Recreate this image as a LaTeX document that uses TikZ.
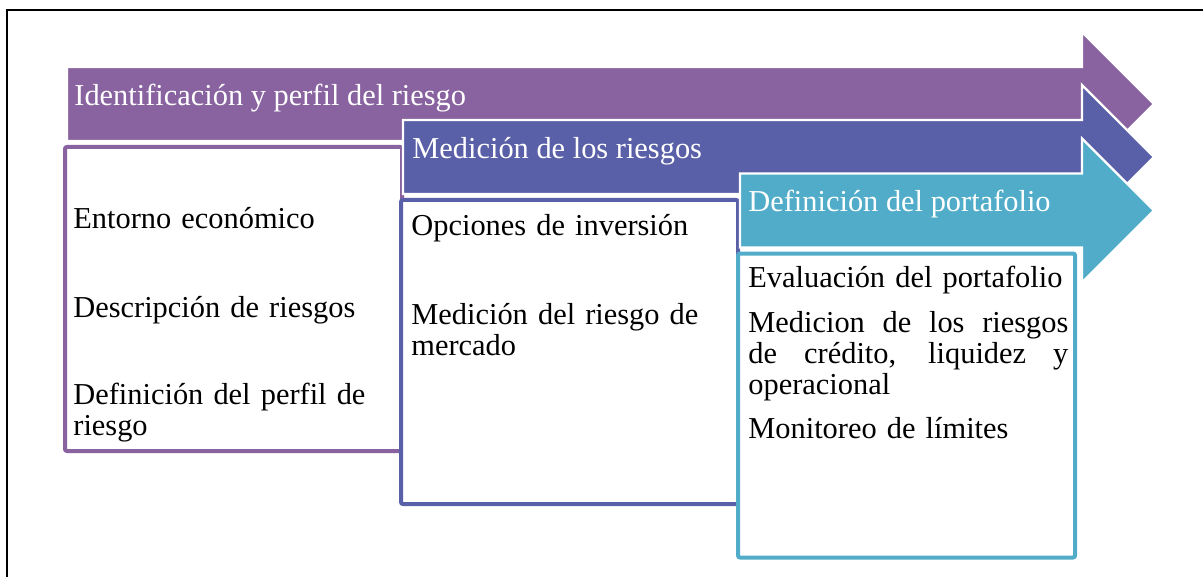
\documentclass[tikz,border=0pt]{standalone}
\usepackage{fontspec}
\setmainfont{Liberation Serif}
\definecolor{purp}{HTML}{8962A0}
\definecolor{blu}{HTML}{5A60A8}
\definecolor{cyanb}{HTML}{50ACC8}

\begin{document}
\begin{tikzpicture}[x = .5pt, y = -.5pt,
    title/.style = {anchor = base west, inner sep = 0, text = white, font = \fontsize{15.2}{15.5}\selectfont},
    item/.style = {anchor = base west, inner sep = 0, text width = 160pt, align = left, font = \fontsize{15.2}{15.5}\selectfont}]

    \useasboundingbox (0, 0) rectangle (1203, 577);
    \draw [line width = .7pt] (7, 577) -- (7, 10) -- (1203, 10);

    % arrow and box of each stage
    \foreach \c/\l/\m in {purp/67/104, blu/403/157, cyanb/740/210.5} {
        \draw [fill = \c, draw = white, line width = 1.2pt]
          (\l, \m-37) -- (1082, \m-37) -- (1082, \m-72) -- (1154, \m) -- (1082, \m+72) -- (1082, \m+37) -- (\l, \m+37) -- cycle;
        \draw [fill = white, draw = \c, line width = 2pt, rounded corners = 1pt]
          (\l-2, \m+43) rectangle (\l+335, \m+347);
    }

    \node [title] (idn) at (74, 106) {Identificación y perfil del riesgo};
    \node [title] (med) at (412, 159) {Medición de los riesgos};
    \node [title] (def) at (748, 212) {Definición del portafolio};

    \node [item] (ent) at (73, 228) {Entorno económico};
    \node [item] (des) at (73, 317) {Descripción de riesgos};
    \node [item] (per) at (73, 404) {Definición del perfil de\\riesgo};

    \node [item] (opc) at (411, 235) {Opciones de inversión};
    \node [item] (mer) at (411, 324) {Medición del riesgo de\\mercado};

    \node [item] (eva) at (748, 287) {Evaluación del portafolio};
    \node [item, align = justify] (cre) at (748, 332) {Medicion de los riesgos\linebreak de crédito, liquidez y\linebreak operacional};
    \node [item] (lim) at (748, 438) {Monitoreo de límites};

\end{tikzpicture}
\end{document}
